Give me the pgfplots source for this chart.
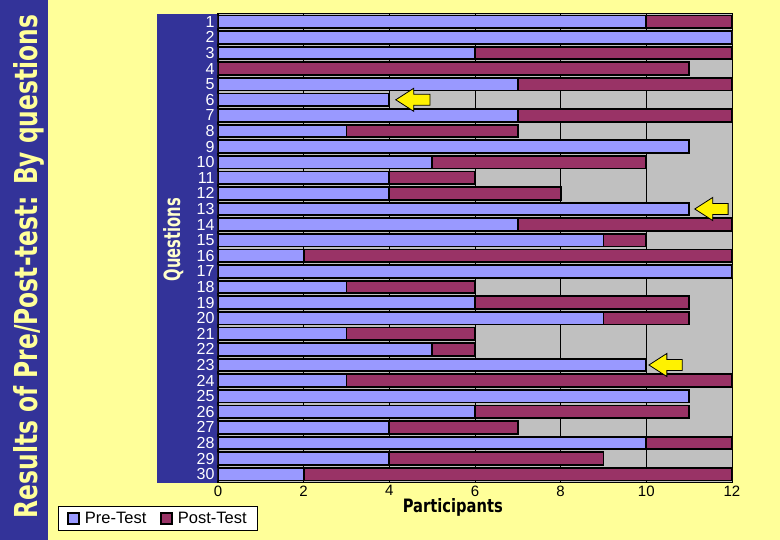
\documentclass[border=0pt]{standalone}
\usepackage{pgfplots}
\usepackage{pgfplotstable}
\pgfplotsset{compat=1.18}
\usepackage{graphicx}
\usepackage{fontspec}
\setmainfont{Liberation Sans}
\newfontfamily\condfont{DejaVu Sans Condensed}
\definecolor{bgyellow}{HTML}{FFFF99}
\definecolor{bandblue}{HTML}{333399}
\definecolor{prec}{HTML}{9999FF}
\definecolor{postc}{HTML}{993366}
\definecolor{plotgray}{HTML}{C0C0C0}
\definecolor{labcream}{HTML}{FFFFCC}

\pgfplotstableread{
q pre post
1 10 12
2 12 12
3 6 12
4 0 11
5 7 12
6 4 3
7 7 12
8 3 7
9 11 11
10 5 10
11 4 6
12 4 8
13 11 10
14 7 12
15 9 10
16 2 12
17 12 12
18 3 6
19 6 11
20 9 11
21 3 6
22 5 6
23 10 9
24 3 12
25 11 11
26 6 11
27 4 7
28 10 12
29 4 9
30 2 12
}\data

\begin{document}
\begin{tikzpicture}
\useasboundingbox (0pt,0pt) rectangle (780pt,540pt);
\fill[bgyellow] (0pt,0pt) rectangle (780pt,540pt);
\fill[bandblue] (0pt,0pt) rectangle (48pt,540pt);
\fill[bandblue] (157pt,57pt) rectangle (218pt,526pt);
\node[rotate=90, anchor=base, inner sep=0pt, text=bgyellow] at (37pt,273.5pt)
  {\resizebox{503pt}{24pt}{\condfont\bfseries Results of Pre/Post-test: By questions}};
\begin{axis}[
  at={(218pt,58pt)}, anchor=south west,
  scale only axis, width=514pt, height=468pt,
  xmin=0, xmax=12, ymin=0.5, ymax=30.5, y dir=reverse,
  xbar, bar width=0.8, bar shift=0pt,
  axis background/.style={fill=plotgray},
  xmajorgrids, grid style={black, line width=0.8pt},
  xtick={0,2,...,12}, ytick={1,...,30},
  major tick length=0pt,
  axis line style={black, line width=1pt},
  /pgf/number format/assume math mode=true,
  xticklabel style={font=\fontsize{15}{15}\selectfont, text=black},
  yticklabel style={font=\fontsize{16}{16}\selectfont, text=white},
  xlabel={\resizebox{100pt}{14pt}{\condfont\bfseries Participants}},
  xlabel style={at={(axis description cs:0.457,-0.0662)}, anchor=base, inner sep=0pt},
  ylabel={\resizebox{83pt}{17pt}{\condfont\bfseries Questions}},
  ylabel style={at={(axis description cs:-0.0739,0.518)}, anchor=base, inner sep=0pt, text=labcream},
  legend image code/.code={\draw[#1] (0pt,-5.5pt) rectangle (11pt,5.5pt); \path (14pt,0pt);},
  legend style={at={(axis description cs:-0.3113,-0.1047)}, anchor=south west,
    fill=white, draw=black, line width=1pt, font=\fontsize{16.5}{16.5}\selectfont,
    inner xsep=9pt, inner ysep=3.5pt},
  legend columns=2,
  legend cell align=left,
  /tikz/every even column/.append style={column sep=12pt},
]
\addplot[forget plot, fill=postc, draw=black, line width=1.8pt] table[x=post, y=q] {\data};
\addplot[forget plot, fill=prec, draw=black, line width=1.8pt] table[x=pre, y=q] {\data};
\addlegendimage{fill=prec, draw=black, line width=1.5pt}
\addlegendentry{Pre-Test}
\addlegendimage{fill=postc, draw=black, line width=1.5pt}
\addlegendentry{Post-Test}
\draw[fill=yellow, draw=black, line width=0.8pt] (axis cs:4.15,6) -- (axis cs:4.57,5.26) -- (axis cs:4.57,5.65) -- (axis cs:4.95,5.65) -- (axis cs:4.95,6.35) -- (axis cs:4.57,6.35) -- (axis cs:4.57,6.74) -- cycle;
\draw[fill=yellow, draw=black, line width=0.8pt] (axis cs:11.13,13) -- (axis cs:11.55,12.26) -- (axis cs:11.55,12.65) -- (axis cs:11.91,12.65) -- (axis cs:11.91,13.35) -- (axis cs:11.55,13.35) -- (axis cs:11.55,13.74) -- cycle;
\draw[fill=yellow, draw=black, line width=0.8pt] (axis cs:10.06,23) -- (axis cs:10.48,22.26) -- (axis cs:10.48,22.65) -- (axis cs:10.84,22.65) -- (axis cs:10.84,23.35) -- (axis cs:10.48,23.35) -- (axis cs:10.48,23.74) -- cycle;
\end{axis}
\end{tikzpicture}
\end{document}
